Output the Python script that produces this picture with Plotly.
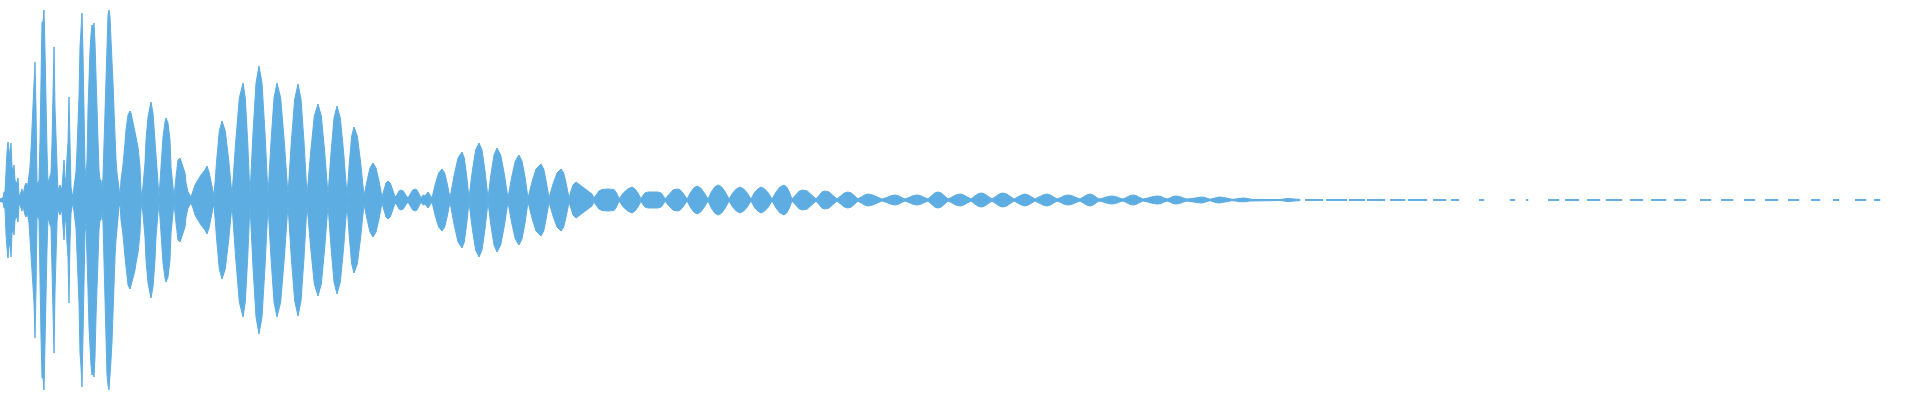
import plotly.graph_objects as go

# ---- data: waveform peak envelope (bucket index -> peak amplitude) ----
# attack: one value per bucket, buckets 0..119
attack_amp = [1, 2, 2, 2, 8, 8, 34, 48, 58, 47, 43, 57, 33, 30, 35, 20, 17, 18, 22, 5,
              5, 8, 11, 5, 11, 15, 17, 13, 17, 23, 33, 50, 72, 85, 103, 138, 90, 18, 16, 20,
              60, 137, 178, 178, 190, 150, 90, 50, 17, 20, 25, 27, 57, 103, 153, 92, 57, 23, 7, 13,
              15, 10, 13, 26, 40, 23, 18, 43, 57, 103, 42, 13, 7, 3, 13, 20, 28, 50, 70, 103,
              153, 167, 187, 147, 100, 33, 23, 40, 90, 127, 150, 165, 175, 173, 177, 157, 117, 83, 60, 30,
              20, 20, 10, 23, 57, 97, 137, 175, 185, 190, 183, 160, 142, 117, 90, 57, 40, 27, 18, 7]

# decay: envelope keypoints (bucket index, peak amplitude)
decay_x = [120, 121, 123, 125, 126, 128, 130, 131, 133, 135, 136, 138, 140, 141, 142,
           145, 146, 148, 150, 151, 153, 155, 156, 158, 159,
           161, 163, 165, 166, 168, 170, 171, 173, 174,
           176, 178, 180, 181, 183, 185, 186, 188, 191,
           193, 195, 198, 201, 205, 207, 209, 211, 213, 214,
           216.7, 219.3, 222, 225.3, 228.7, 232,
           235.7, 239.3, 243, 245.3, 247.7, 250,
           253, 256, 259, 262, 265, 268,
           271, 274, 277, 280.7, 284.3, 288,
           291.3, 294.7, 298, 301, 304, 307,
           310.7, 314.3, 318, 321.3, 324.7, 328,
           331, 334, 337, 340.3, 343.7, 347,
           349.3, 351.7, 354, 357.3, 360.7, 364,
           367, 370, 373, 376, 379, 382,
           384, 386, 388, 390.3, 392.7, 395,
           397, 399, 401, 403.3, 405.7, 408,
           410.3, 412.7, 415, 417, 419, 421,
           423, 425, 428, 430, 432,
           435.3, 438.7, 442, 444.7, 447.3, 450,
           454, 458, 462, 464.3, 466.7, 469,
           472.3, 475.7, 479, 482, 485, 488,
           491, 494, 497, 500.7, 504.3, 508,
           511.7, 515.3, 519, 522, 525, 528,
           532, 536, 541, 543.7, 546.3, 549,
           553, 557, 561, 563.7, 566.3, 569,
           571, 573, 576, 580, 584, 588, 592, 594,
           596, 599, 602, 608, 614, 616, 618, 619,
           623.3, 627.7, 632, 635, 638, 641,
           642.5, 645, 648, 658, 661, 663.5, 665,
           669, 673, 677, 680.3, 683.7, 687,
           690.3, 693.7, 697, 700.7, 704.3, 708,
           711.3, 714.7, 718, 721.7, 725.3, 729,
           732.7, 736.3, 740, 743.7, 747.3, 751,
           754.3, 757.7, 761, 764.7, 768.3, 772,
           776, 780, 784, 786.7, 789.3, 792,
           795.7, 799.3, 803, 807.3, 811.7, 816,
           819, 822, 825, 829, 833, 837,
           840.7, 844.3, 848, 851.3, 854.7, 858,
           861.3, 864.7, 868, 872.7, 877.3, 882,
           887, 891, 895, 898.3, 901.7, 905,
           909, 913, 917, 920.7, 924.3, 928,
           931.3, 934.7, 938, 941.3, 944.7, 948,
           952, 956, 960, 963.7, 967.3, 971,
           974.3, 977.7, 981, 984.7, 988.3, 992,
           995.7, 999.3, 1003, 1006.7, 1010.3, 1014,
           1017.7, 1021.3, 1025, 1028.3, 1031.7, 1035,
           1039, 1043, 1047, 1050.3, 1053.7, 1057,
           1060.7, 1064.3, 1068, 1072, 1076, 1080,
           1083.3, 1086.7, 1090, 1093, 1096, 1099,
           1103.3, 1107.7, 1112, 1115.7, 1119.3, 1123,
           1126.3, 1129.7, 1133, 1136.3, 1139.7, 1143,
           1148, 1153, 1158, 1161, 1164, 1167,
           1170, 1173, 1176, 1179.7, 1183.3, 1187,
           1192, 1197, 1202, 1204.7, 1207.3, 1210,
           1213, 1216, 1219, 1223.3, 1227.7, 1232,
           1235.7, 1239.3, 1243, 1246.3, 1249.7, 1253,
           1265, 1280, 1288, 1300]
decay_amp = [4, 20, 35, 57, 70, 85, 89, 87, 78, 70, 63, 53, 33, 10, 3,
             37, 60, 83, 93, 98, 87, 60, 37, 13, 3,
             33, 63, 78, 82, 77, 60, 33, 13, 3,
             23, 40, 42, 39, 32, 27, 17, 8, 3,
             8, 15, 20, 25, 30, 34, 28, 18, 8, 4,
             40, 69, 79, 69, 40, 5,
             58, 102, 117, 102, 58, 5,
             67, 117, 134, 117, 67, 5,
             58, 102, 117, 102, 58, 5,
             58, 101, 116, 101, 58, 5,
             48, 84, 96, 84, 48, 5,
             47, 82, 94, 82, 47, 4,
             37, 64, 73, 64, 37, 4,
             19, 32, 37, 32, 19, 3,
             10, 17, 19, 17, 10, 3,
             5, 9, 10, 9, 5, 2,
             6, 10, 11, 10, 6, 2,
             5, 4, 8, 5, 2,
             16, 27, 31, 27, 16, 2,
             24, 42, 48, 42, 24, 2,
             29, 50, 57, 50, 29, 2,
             26, 45, 52, 45, 26, 2,
             23, 39, 45, 39, 23, 2,
             18, 31, 36, 31, 18, 2,
             16, 27, 31, 27, 16, 2,
             9, 15, 18, 15, 12, 9, 6, 2,
             5, 9, 10.5, 11, 10.5, 8, 4, 1,
             7, 11, 13, 11, 7, 1,
             4, 7, 8, 8, 7, 4, 1,
             6, 10, 11, 10, 6, 1,
             7, 12, 14, 12, 7, 1,
             8, 13, 15, 13, 8, 1,
             7, 11, 13, 11, 7, 1,
             7, 11, 13, 11, 7, 1,
             8, 13, 15, 13, 8, 1,
             5, 9, 10, 9, 5, 1,
             4.5, 8, 9, 8, 4.5, 1,
             4, 7, 8, 7, 4, 1,
             3, 5, 6, 5, 3, 1,
             2.5, 4.3, 5, 4.3, 2.5, 1,
             2.5, 4.3, 5, 4.3, 2.5, 1,
             4, 7, 8, 7, 4, 1,
             3, 5, 6, 5, 3, 1,
             3.5, 6, 7, 6, 3.5, 1,
             3.5, 6, 7, 6, 3.5, 1,
             3, 5, 6, 5, 3, 1,
             3, 5, 6, 5, 3, 1,
             2.5, 4.3, 5, 4.3, 2.5, 1,
             3, 5, 6, 5, 3, 1,
             2, 3.5, 4, 3.5, 2, 1,
             2.5, 4.3, 5, 4.3, 2.5, 1,
             2, 3.5, 4, 3.5, 2, 1,
             2, 3.5, 4, 3.5, 2, 1,
             1.5, 2.6, 3, 2.6, 1.5, 0.7,
             1.5, 2.6, 3, 2.6, 1.5, 0.7,
             1, 1.7, 2, 1.7, 1, 0.5,
             0.5, 0.5, 1.5, 0.5]

# tail: near-silent fragments (start bucket, end bucket, amplitude)
tail_start = [1305, 1326, 1349, 1367, 1390, 1408, 1433, 1451, 1479, 1510, 1526, 1548, 1565, 1587,
              1606, 1630, 1651, 1674, 1700, 1721, 1744, 1765, 1788, 1811, 1833, 1855, 1874]
tail_end = [1323, 1347, 1365, 1385, 1405, 1427, 1446, 1459, 1484, 1515, 1528, 1559, 1579, 1600,
            1622, 1643, 1666, 1686, 1711, 1733, 1755, 1778, 1799, 1820, 1839, 1866, 1880]
tail_amp = [0.4] * len(tail_start)

assert len(decay_x) == len(decay_amp), (len(decay_x), len(decay_amp))

COLOR = "#5dade2"

# ---- build mirrored polygon(s) ----
attack_x = list(range(len(attack_amp)))
body_x = attack_x + decay_x
body_a = attack_amp + decay_amp
poly_x = body_x + body_x[::-1]
poly_y = body_a + [-a for a in body_a[::-1]]
for s, e, a in zip(tail_start, tail_end, tail_amp):
    poly_x += [None, s, e, e, s]
    poly_y += [None, a, a, -a, -a]

fig = go.Figure()
fig.add_trace(go.Scatter(
    x=poly_x, y=poly_y, mode="lines", fill="toself",
    fillcolor=COLOR, line=dict(color=COLOR, width=1),
    hoverinfo="skip", showlegend=False,
))

fig.update_layout(
    width=1920, height=400,
    margin=dict(l=0, r=0, t=0, b=0),
    paper_bgcolor="white", plot_bgcolor="white",
    xaxis=dict(range=[0, 1920], visible=False, fixedrange=True),
    yaxis=dict(range=[-200, 200], visible=False, fixedrange=True),
    showlegend=False,
)

fig.write_html(
    "out.html",
    config={"displayModeBar": False},
    post_script="document.body.style.margin='0';document.body.style.overflow='hidden';",
)
